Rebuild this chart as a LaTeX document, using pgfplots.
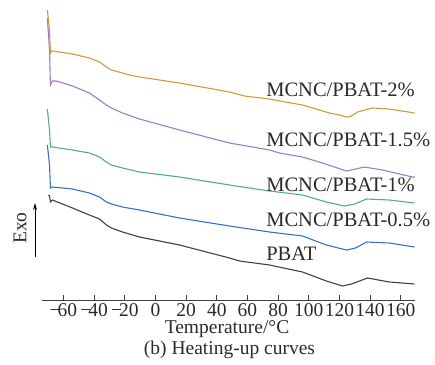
\documentclass[border=0pt]{standalone}
\usepackage{pgfplots}
\pgfplotsset{compat=1.18}
\usepackage{fontspec}
\setmainfont{Liberation Serif}
\usetikzlibrary{arrows.meta}
\definecolor{corange}{HTML}{D19A3B}
\definecolor{cpurple}{HTML}{9E7BC9}
\definecolor{cgreen}{HTML}{4DB37A}
\definecolor{cblue}{HTML}{3A6FC4}
\definecolor{cblack}{HTML}{404040}
\definecolor{ctext}{HTML}{2A2A2A}
\newcommand\fs{\fontsize{19.5}{23}\selectfont}
\newcommand\fsl{\fontsize{20.5}{24}\selectfont}
\newcommand\fst{\fontsize{19.5}{22}\selectfont}
\newcommand\mn{−\kern-3pt}
\begin{document}
\begin{tikzpicture}
\path[use as bounding box] (-42pt,-64pt) rectangle (393pt,300pt);
\begin{axis}[
  anchor=south west, at={(0pt,0pt)},
  scale only axis,
  x=1.533pt, y=1pt,
  xmin=-74, xmax=169, ymin=0, ymax=300,
  axis x line=bottom, hide y axis,
  axis line style={-, draw=black!75, line width=0.8pt},
  xtick={-60,-40,...,160},
  xticklabels={\mn 60,\mn 40,\mn 20,0,20,40,60,80,100,120,140,160},
  tick align=inside, major tick length=5pt,
  tick style={draw=black!75, line width=0.8pt},
  xticklabel style={font=\fst, text=ctext, inner sep=0pt, yshift=-3.5pt},
  clip=false,
  every axis plot/.append style={line width=1.1pt, mark=none},
]
% PBAT
\addplot[cblack] coordinates {
(-69.8,105) (-69.1,104) (-68.5,98) (-67.2,100) (-54.1,92) (-43.1,85) (-36.5,81)
(-32.0,75) (-28.7,72) (-21.5,68) (-10.4,63) (15.7,55) (48.3,42) (54.8,39)
(74.4,35) (95.9,28) (111.5,19) (122.0,14) (127.9,16) (138.3,22) (152.6,18) (169.0,16)};
% 0.5%
\addplot[cblue] coordinates {
(-70.5,155) (-69.1,135) (-68.5,112) (-67.2,113) (-54.1,111) (-43.1,107) (-36.5,103)
(-32.0,98) (-28.7,96) (-21.5,93) (-10.4,90) (15.7,82) (48.3,74) (74.4,68)
(95.9,64) (111.5,55) (124.6,50) (130.5,52) (137.6,58) (152.6,57) (169.0,53)};
% 1%
\addplot[cgreen] coordinates {
(-70.5,191) (-69.1,170) (-68.5,153) (-67.2,153) (-54.1,150) (-43.1,147) (-36.5,143)
(-32.0,138) (-28.7,135) (-21.5,132) (-10.4,128) (15.7,123) (48.3,115) (74.4,109)
(95.9,105) (111.5,98) (123.3,94) (130.0,96) (137.6,101) (152.6,100) (169.0,97)};
% 1.5%
\addplot[cpurple] coordinates {
(-70.5,282) (-69.1,250) (-68.5,215) (-67.2,219) (-64.6,219) (-54.1,214) (-43.1,207)
(-36.5,200) (-32.0,195) (-28.7,192) (-21.5,187) (-10.4,181) (15.7,170) (48.3,157)
(74.4,150) (80.9,147) (95.9,143) (108.9,137) (124.6,129) (136.3,133) (148.1,130)
(167.6,123) (169.0,123)};
% 2%
\addplot[corange] coordinates {
(-70.5,290) (-69.1,270) (-68.5,247) (-67.8,249) (-67.2,249) (-54.1,246) (-43.1,242)
(-36.5,238) (-32.0,233) (-28.7,230) (-21.5,227) (-17.0,225) (-10.4,223) (15.7,217)
(48.3,208) (58.1,204) (74.4,201) (80.9,199) (95.9,195) (113.5,187) (120.0,185)
(124.6,183) (127.9,184) (131.8,188) (141.6,192) (152.6,191) (169.0,187)};
\node[anchor=base west, inner sep=0pt, font=\fsl, text=ctext] at (axis cs:72.2,203.3) {MCNC/PBAT-2\%};
\node[anchor=base west, inner sep=0pt, font=\fsl, text=ctext] at (axis cs:72.2,153.3) {MCNC/PBAT-1.5\%};
\node[anchor=base west, inner sep=0pt, font=\fsl, text=ctext] at (axis cs:72.2,108.3) {MCNC/PBAT-1\%};
\node[anchor=base west, inner sep=0pt, font=\fsl, text=ctext] at (axis cs:72.2,74) {MCNC/PBAT-0.5\%};
\node[anchor=base west, inner sep=0pt, font=\fsl, text=ctext] at (axis cs:72.2,40) {PBAT};
\end{axis}
\node[rotate=90, inner sep=0pt, font=\fs, text=ctext] at (-22pt,72pt) {Exo};
\draw[-{Stealth[length=7pt,width=4pt]}, line width=0.9pt, black] (-7pt,43pt) -- (-7pt,97pt);
\node[inner sep=0pt, font=\fs, text=ctext] at (185pt,-29pt) {Temperature/°C};
\node[inner sep=0pt, font=\fs, text=ctext] at (187.5pt,-50pt) {(b) Heating-up curves};
\end{tikzpicture}
\end{document}
